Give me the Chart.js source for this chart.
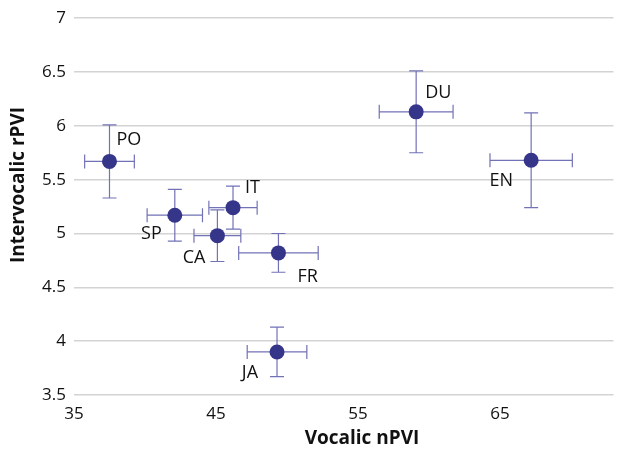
<!DOCTYPE html>
<html>
<head>
<meta charset="utf-8">
<script src="https://cdn.jsdelivr.net/npm/chart.js@4/dist/chart.umd.min.js"></script>
<style>
html,body{margin:0;padding:0;background:#fff;}
#wrap{width:621px;height:453px;position:relative;}
</style>
</head>
<body>
<div id="wrap"><canvas id="c" width="621" height="453"></canvas></div>
<script>
// ---- data ----
const languages = ["PO", "SP", "IT", "CA", "FR", "JA", "DU", "EN"];
const vocalicNPVI = [37.5, 42.1, 46.2, 45.1, 49.4, 49.3, 59.1, 67.2];
const intervocalicRPVI = [5.67, 5.17, 5.24, 4.98, 4.82, 3.90, 6.13, 5.68];
const nPVIError = [1.75, 1.95, 1.7, 1.65, 2.8, 2.1, 2.6, 2.9];
const rPVIError = [0.34, 0.24, 0.2, 0.24, 0.18, 0.23, 0.38, 0.44];
const xTickValues = [35, 45, 55, 65];
const yTickValues = [3.5, 4, 4.5, 5, 5.5, 6, 6.5, 7];
const xTitle = "Vocalic nPVI";
const yTitle = "Intervocalic rPVI";

// ---- label layout (pixel offsets from point; align side) ----
const labelLayout = {
  PO: {align: "left",  dx: 7,   dy: -22},
  SP: {align: "right", dx: -13, dy: 19},
  IT: {align: "left",  dx: 12,  dy: -20},
  CA: {align: "right", dx: -12, dy: 22},
  FR: {align: "left",  dx: 19,  dy: 24},
  JA: {align: "right", dx: -19, dy: 21},
  DU: {align: "left",  dx: 9,   dy: -19},
  EN: {align: "right", dx: -18, dy: 21}
};

const FONT = "'Open Sans', 'DejaVu Sans', sans-serif";
const POINT_COLOR = "#35358a";
const ERR_COLOR = "#7272b6";

const errorBarPlugin = {
  id: "errorBars",
  beforeDatasetsDraw(chart) {
    const {ctx, scales:{x, y}} = chart;
    ctx.save();
    ctx.strokeStyle = ERR_COLOR;
    ctx.lineWidth = 1.2;
    const cap = 7;
    languages.forEach((l, i) => {
      const px = x.getPixelForValue(vocalicNPVI[i]);
      const py = y.getPixelForValue(intervocalicRPVI[i]);
      const x0 = x.getPixelForValue(vocalicNPVI[i] - nPVIError[i]);
      const x1 = x.getPixelForValue(vocalicNPVI[i] + nPVIError[i]);
      const y0 = y.getPixelForValue(intervocalicRPVI[i] - rPVIError[i]);
      const y1 = y.getPixelForValue(intervocalicRPVI[i] + rPVIError[i]);
      ctx.beginPath();
      ctx.moveTo(x0, py); ctx.lineTo(x1, py);
      ctx.moveTo(x0, py - cap); ctx.lineTo(x0, py + cap);
      ctx.moveTo(x1, py - cap); ctx.lineTo(x1, py + cap);
      ctx.moveTo(px, y0); ctx.lineTo(px, y1);
      ctx.moveTo(px - cap, y0); ctx.lineTo(px + cap, y0);
      ctx.moveTo(px - cap, y1); ctx.lineTo(px + cap, y1);
      ctx.stroke();
    });
    ctx.restore();
  },
  afterDatasetsDraw(chart) {
    const {ctx, scales:{x, y}} = chart;
    ctx.save();
    ctx.fillStyle = "#111";
    ctx.font = "18px " + FONT;
    ctx.textBaseline = "middle";
    languages.forEach((l, i) => {
      const px = x.getPixelForValue(vocalicNPVI[i]);
      const py = y.getPixelForValue(intervocalicRPVI[i]);
      const lay = labelLayout[l];
      ctx.textAlign = lay.align;
      ctx.fillText(l, px + lay.dx, py + lay.dy);
    });
    // axis titles
    ctx.font = "bold 19px " + FONT;
    ctx.textAlign = "center";
    ctx.fillText(xTitle, 362, 439);
    ctx.translate(19, 185);
    ctx.rotate(-Math.PI / 2);
    ctx.fillText(yTitle, 0, 0);
    ctx.restore();
  }
};

new Chart(document.getElementById("c"), {
  type: "scatter",
  data: {
    datasets: [{
      data: languages.map((l, i) => ({x: vocalicNPVI[i], y: intervocalicRPVI[i]})),
      backgroundColor: POINT_COLOR,
      borderColor: POINT_COLOR,
      pointRadius: 7.5,
      pointHoverRadius: 7.5,
      borderWidth: 0
    }]
  },
  options: {
    responsive: false,
    animation: false,
    events: [],
    layout: {padding: {top: 14, right: 0, left: 0, bottom: 0}},
    plugins: {legend: {display: false}, tooltip: {enabled: false}},
    scales: {
      x: {
        type: "linear",
        min: 35, max: 73,
        afterBuildTicks(s) { s.ticks = xTickValues.map(v => ({value: v})); },
        afterFit(s) { s.height = 58; },
        grid: {display: false, drawTicks: false},
        border: {display: false},
        ticks: {color: "#111", font: {family: FONT, size: 17}, padding: 9, maxRotation: 0,
                callback: v => String(v)}
      },
      y: {
        type: "linear",
        min: 3.5, max: 7,
        afterBuildTicks(s) { s.ticks = yTickValues.map(v => ({value: v})); },
        afterFit(s) { s.width = 74; },
        grid: {color: "#d3d3d3", lineWidth: 1.6, drawTicks: false},
        border: {display: false},
        ticks: {color: "#111", font: {family: FONT, size: 17}, padding: 8,
                callback: v => String(v)}
      }
    }
  },
  plugins: [errorBarPlugin]
});
</script>
</body>
</html>
